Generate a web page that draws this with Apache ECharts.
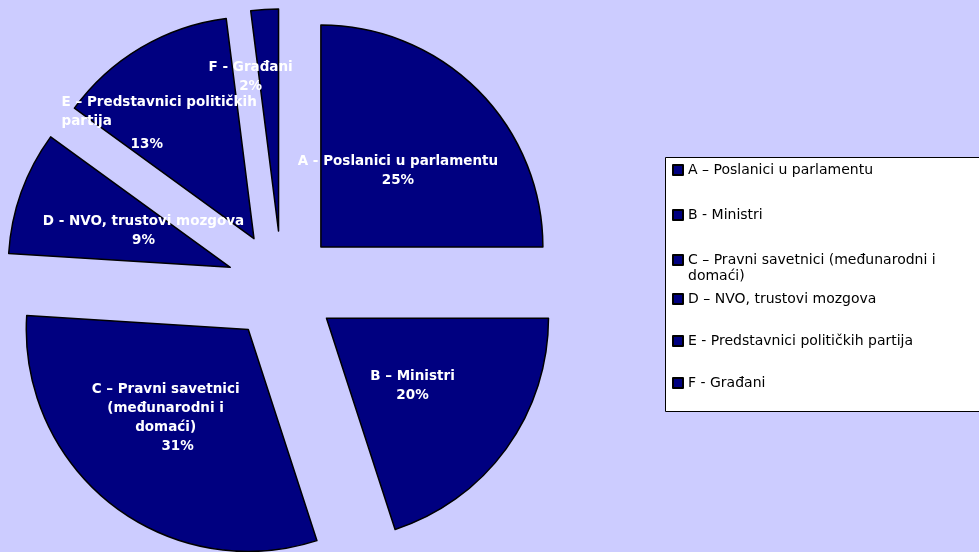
<!DOCTYPE html>
<html>
<head>
<meta charset="utf-8">
<script src="https://cdn.jsdelivr.net/npm/echarts@6/dist/echarts.min.js"></script>
<style>
  html, body { margin: 0; padding: 0; background: #ccccff; }
  #chart { width: 979px; height: 552px; }
</style>
</head>
<body>
<div id="chart"></div>
<script>
// Legend entries (also the slice names)
const categories = [
  'A – Poslanici u parlamentu',
  'B - Ministri',
  'C – Pravni savetnici (međunarodni i\ndomaći)',
  'D – NVO, trustovi mozgova',
  'E - Predstavnici političkih partija',
  'F - Građani'
];
// Text written on each slice
const sliceLabels = [
  'A - Poslanici u parlamentu',
  'B – Ministri',
  'C – Pravni savetnici\n(međunarodni i\ndomaći)',
  'D - NVO, trustovi mozgova',
  'E – Predstavnici političkih\npartija',
  'F - Građani'
];
// Share of each group, in percent
const shares = [25, 20, 31, 9, 13, 2];

// Label nudges away from the default inside spot
const labelNudge = [[-34, 35], [-25, -38], [-6, -15], [24, 29], [-5, -3], [-14, -43]];
// Per-slice text layout: left-aligned name lines, extra left pad before the percentage
const leftAligned = [false, false, false, false, true, false];
const percentPad = [0, 0, 24, 0, 69, 0];

const NAVY = '#000080';
const FONT = '"DejaVu Sans", "Liberation Sans", Arial, sans-serif';

const chart = echarts.init(document.getElementById('chart'));

const labelFont = { color: '#fff', fontFamily: FONT, fontWeight: 'bold', fontSize: 13.5, lineHeight: 19 };

function sliceLabel(p) {
  const i = p.dataIndex;
  const pct = p.percent + '%';
  if (leftAligned[i]) {
    const lines = sliceLabels[i].split('\n').map(s => '{l|' + s + '}');
    return lines.join('\n') + '\n{pl|' + pct + '}';
  }
  const tail = percentPad[i] ? '{pc|' + pct + '}' : pct;
  return sliceLabels[i] + '\n' + tail;
}

const sliceStyle = { color: NAVY, borderColor: '#000', borderWidth: 1.5 };
const labelStyle = Object.assign({
  show: true,
  position: 'inside',
  formatter: sliceLabel,
  rich: {
    l: Object.assign({ align: 'left' }, labelFont),
    pl: Object.assign({}, labelFont, { align: 'left', lineHeight: 27, padding: [0, 0, 0, 69] }),
    pc: Object.assign({}, labelFont, { padding: [0, 0, 0, 24] })
  }
}, labelFont);

const legendText = { color: '#000', fontFamily: FONT, fontSize: 14, lineHeight: 16 };
const legendBase = {
  orient: 'vertical',
  left: 672,
  itemWidth: 10,
  itemHeight: 10,
  icon: 'rect',
  padding: 0,
  selectedMode: false,
  textStyle: legendText
};

chart.setOption({
  animation: false,
  backgroundColor: '#ccccff',
  graphic: [{
    type: 'rect',
    z: -1,
    shape: { x: 665.5, y: 157.5, width: 330, height: 254 },
    style: { fill: '#fff', stroke: '#000', lineWidth: 1 }
  }],
  legend: [
    Object.assign({}, legendBase, { data: categories.slice(0, 2), top: 162, itemGap: 29 }),
    // two-line entry: the square sits beside the first line
    Object.assign({}, legendBase, {
      data: [categories[2]], top: 252, itemHeight: 26,
      icon: 'path://M0,0h10v10h-10zM0,26h0.001'
    }),
    Object.assign({}, legendBase, { data: categories.slice(3), top: 291, itemGap: 26 })
  ],
  series: [{
    type: 'pie',
    center: [282, 286],
    radius: 222,
    startAngle: 90,
    clockwise: true,
    avoidLabelOverlap: false,
    selectedMode: 'multiple',
    selectedOffset: 55,
    itemStyle: sliceStyle,
    label: labelStyle,
    labelLine: { show: false },
    emphasis: { disabled: true },
    select: { itemStyle: sliceStyle, label: labelStyle },
    labelLayout: p => ({ dx: labelNudge[p.dataIndex][0], dy: labelNudge[p.dataIndex][1] }),
    data: categories.map((name, i) => ({ name, value: shares[i], selected: true }))
  }]
});
</script>
</body>
</html>
